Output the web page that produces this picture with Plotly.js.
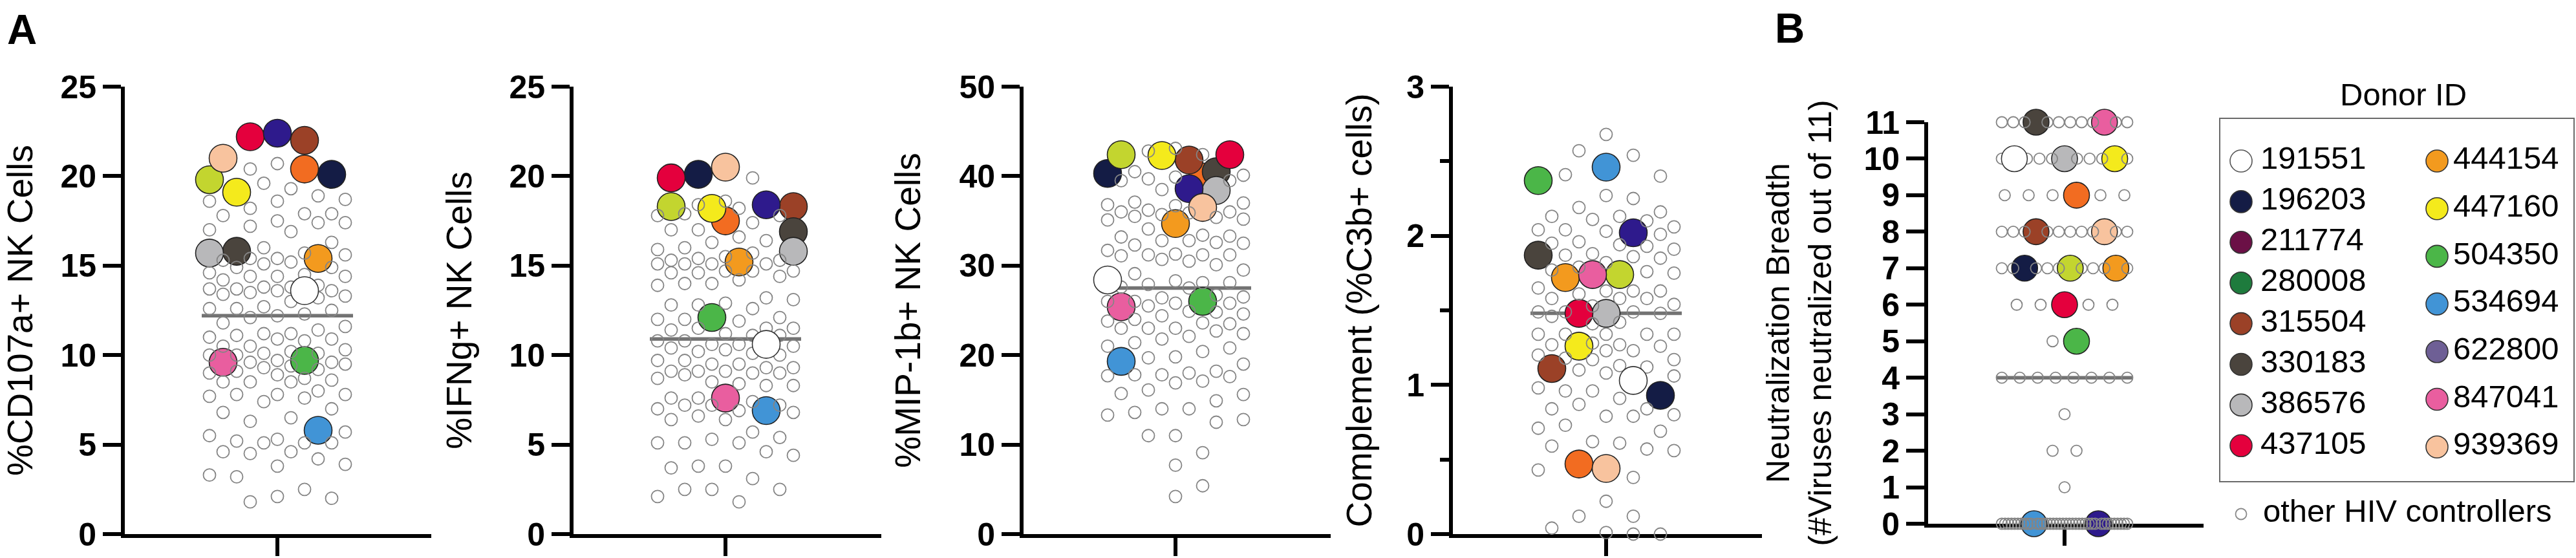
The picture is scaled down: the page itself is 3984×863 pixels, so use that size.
<!DOCTYPE html>
<html><head><meta charset="utf-8">
<script src="https://cdn.plot.ly/plotly-3.0.1.min.js"></script>
<style>html,body{margin:0;padding:0;background:#fff;}#chart{width:3984px;height:863px;}</style>
</head><body><div id="chart"></div>
<script>
// ---------------- DATA ----------------
const donorIds = ['191551','196203','211774','280008','315504','330183','386576','437105','444154','447160','504350','534694','622800','847041','939369'];
const legendColors = ['#ffffff','#141c45','#6b1046','#1e7b3d','#9b4127','#4a443d','#b8b8ba','#e4003d','#f39a1e','#f4ea1c','#4bb648','#4194d6','#6e5f95','#e95e9f','#f8c39e'];
const plotColors   = ['#ffffff','#141c45','#f26c21','#c3d52f','#9b4127','#4a443d','#b8b8ba','#e4003d','#f39a1e','#f4ea1c','#4bb648','#4194d6','#2e1a8c','#e95e9f','#f8c39e'];

const cd107aDonors = [13.6, 20.1, 20.4, 19.8, 22.0, 15.8, 15.7, 22.2, 15.4, 19.1, 9.7, 5.8, 22.4, 9.6, 21.0];
const ifngDonors   = [10.6, 20.1, 17.5, 18.3, 18.3, 16.9, 15.8, 19.9, 15.2, 18.2, 12.1, 6.9, 18.4, 7.6, 20.5];
const mipDonors    = [28.4, 40.3, 39.9, 42.4, 41.8, 40.5, 38.4, 42.4, 34.7, 42.3, 26.0, 19.3, 38.6, 25.4, 36.5];
const c3bDonors    = [1.03, 0.93, 0.47, 1.74, 1.11, 1.87, 1.48, 1.48, 1.72, 1.26, 2.37, 2.46, 2.02, 1.74, 0.44];
const neutDonors   = [10, 7, 9, 7, 8, 11, 10, 6, 7, 10, 5, 0, 0, 11, 8];

const cd107aOthers = [20.7,20.4,19.6,19.3,18.9,18.7,18.6,18.6,18.2,17.9,17.9,17.8,17.5,17.4,17.4,17.2,17.0,16.9,16.3,16.0,
  15.7,15.6,15.4,15.4,15.3,15.2,15.1,14.9,14.9,14.6,14.5,14.4,14.4,14.4,14.2,13.9,13.8,13.8,13.7,13.7,
  13.6,13.6,13.5,13.4,13.3,13.2,13.0,12.7,12.6,12.6,12.5,12.3,12.2,12.1,11.8,11.6,11.4,11.2,11.2,11.1,
  11.0,10.9,10.9,10.8,10.5,10.5,10.3,10.2,10.1,10.1,10.0,10.0,9.7,9.6,9.6,9.5,9.4,9.3,9.2,9.1,
  9.0,8.9,8.7,8.6,8.5,8.5,8.5,8.0,7.8,7.8,7.8,7.7,7.6,7.4,7.0,6.8,6.5,6.3,5.7,5.5,
  5.3,5.2,5.1,5.1,5.1,4.6,4.6,4.5,4.2,3.9,3.8,3.3,3.2,2.5,2.1,2.0,1.8];
const ifngOthers = [19.9,18.6,18.4,18.2,17.9,17.8,17.8,17.4,17.0,17.0,16.6,16.4,16.3,16.0,15.9,15.7,15.5,15.4,15.3,15.3,
  15.1,15.1,15.1,15.1,14.7,14.7,14.7,14.6,14.6,14.4,14.2,14.0,14.0,13.9,13.2,13.1,12.9,12.8,12.8,12.6,
  12.1,12.0,12.0,11.9,11.5,11.5,11.5,11.4,11.2,11.1,11.1,10.8,10.8,10.6,10.6,10.5,10.4,10.3,10.2,10.1,
  10.0,9.7,9.7,9.5,9.5,9.3,9.3,9.1,9.1,9.1,9.0,9.0,8.9,8.7,8.5,8.4,8.3,8.3,7.6,7.6,
  7.4,7.2,7.2,7.2,7.0,6.9,6.8,6.6,6.4,6.4,5.7,5.4,5.3,5.1,5.1,5.1,4.6,4.4,3.8,3.8,
  3.7,3.1,2.5,2.5,2.5,2.1,1.8];
const mipOthers = [43.1,42.8,42.4,40.5,40.1,39.9,39.7,39.5,39.5,38.5,37.1,37.0,36.8,36.7,36.2,36.0,36.0,35.9,35.7,35.5,
  35.4,35.2,35.1,34.1,33.4,33.3,33.2,32.8,32.8,32.6,32.5,32.3,31.7,31.3,31.2,31.2,31.2,31.1,30.7,30.5,
  30.1,29.5,29.1,28.3,28.1,28.1,27.9,27.6,27.5,26.7,26.5,26.4,26.0,26.0,25.8,25.8,25.5,24.9,24.8,24.6,
  24.4,24.0,23.8,23.6,23.5,23.0,23.0,23.0,22.7,22.4,22.1,21.8,21.4,21.0,20.8,20.4,19.8,19.7,19.0,18.2,
  18.0,17.8,17.8,17.7,17.6,17.1,16.9,16.1,15.7,15.6,14.9,14.0,14.0,13.6,13.3,12.8,12.5,11.0,11.0,9.1,
  7.7,5.4,4.2];
const c3bOthers = [2.68,2.57,2.54,2.41,2.40,2.27,2.25,2.19,2.16,2.13,2.13,2.11,2.10,2.06,2.04,2.04,2.03,2.01,1.96,1.95,
  1.94,1.93,1.91,1.88,1.87,1.86,1.85,1.82,1.79,1.77,1.76,1.75,1.65,1.63,1.63,1.63,1.61,1.58,1.58,1.58,
  1.54,1.53,1.49,1.49,1.49,1.48,1.46,1.42,1.41,1.34,1.34,1.34,1.34,1.34,1.28,1.27,1.27,1.26,1.23,1.23,
  1.20,1.18,1.17,1.17,1.13,1.12,1.10,1.08,1.06,0.98,0.96,0.96,0.91,0.87,0.84,0.84,0.80,0.79,0.79,0.73,
  0.71,0.69,0.62,0.61,0.59,0.57,0.56,0.43,0.38,0.22,0.12,0.12,0.04,0.01,0.0,0.0];
const neutOthers = [11,11,11,11,11,11,11,11,11,11, 10,10,10,10,10,10,10,10, 9,9,9,9,9,
  8,8,8,8,8,8,8,8,8,8, 7,7,7,7,7,7,7,7,7, 6,6,6,6, 5, 4,4,4,4,4,4,4,4, 3, 2,2, 1,
  0,0,0,0,0,0,0,0,0,0, 0,0,0,0,0,0,0,0,0,0, 0,0,0,0,0,0,0,0,0,0, 0,0,0,0,0,0,0,0];

const centerLines = [12.2, 10.9, 27.5, 1.48, 4];
const yTitles = ['%CD107a+ NK Cells','%IFNg+ NK Cells','%MIP-1b+ NK Cells','Complement (%C3b+ cells)',
  'Neutralization Breadth<br>(#Viruses neutralized out of 11)'];
const yMax = [25, 25, 50, 3, 11];
const yStep = [5, 5, 10, 1, 1];
const panelLetters = ['A','B'];
const legendTitle = 'Donor ID';
const otherLabel = 'other HIV controllers';

// ---------------- LAYOUT / STYLE ----------------
const W = 3984, H = 863;
const FONT = 'Liberation Sans, Arial, Helvetica, sans-serif';
const panels = [
  {x0:193,  x1:667,  xc:429,  yTop:134, yBot:826, standoff:42},
  {x0:887,  x1:1363, xc:1122, yTop:134, yBot:826, standoff:42},
  {x0:1583, x1:2058, xc:1818, yTop:134, yBot:826, standoff:44},
  {x0:2247, x1:2725, xc:2484, yTop:134, yBot:826, standoff:38},
  {x0:2982, x1:3408, xc:3193, yTop:189, yBot:810, standoff:36}
];
const panelData = [
  [cd107aOthers, cd107aDonors], [ifngOthers, ifngDonors], [mipOthers, mipDonors],
  [c3bOthers, c3bDonors], [neutOthers, neutDonors]
];

// beeswarm on a grid of column slots (Prism-like spread)
function swarm(values, pxPerUnit, d, sp, K, cap) {
  const order = values.map((v, i) => i).sort((a, b) => values[b] - values[a]);
  const xs = new Array(values.length);
  const placed = [];
  let flip = 1;
  for (const i of order) {
    const y = values[i] * pxPerUnit;
    let best = 0, bestScore = -Infinity;
    for (let a = 0; a <= K; a++) {
      const cands = a === 0 ? [0] : [flip * a, -flip * a];
      for (const k of cands) {
        const x = k * sp;
        let c = Infinity;
        for (const p of placed) {
          const dy = y - p.y;
          if (Math.abs(dy) > d + cap + 2) continue;
          const dist = Math.hypot(x - p.x, dy) - d;
          if (dist < c) c = dist;
        }
        const score = Math.min(c, cap);
        if (score > bestScore + 1e-9) { bestScore = score; best = x; }
      }
    }
    flip = -flip;
    xs[i] = best;
    placed.push({x: best, y});
  }
  return xs;
}

// rows of identical integer values spread evenly (panel B)
function rowSpread(others, donors, maxGap, halfW) {
  const groups = {};
  others.forEach((v, i) => { (groups[v] = groups[v] || {o: [], d: []}).o.push(i); });
  donors.forEach((v, i) => { (groups[v] = groups[v] || {o: [], d: []}).d.push(i); });
  const ox = new Array(others.length), dx = new Array(donors.length);
  Object.keys(groups).forEach(key => {
    const g = groups[key];
    const n = g.o.length + g.d.length, m = g.d.length;
    const gap = n > 1 ? Math.min(maxGap, 2 * halfW / (n - 1)) : 0;
    const slotX = s => (s - (n - 1) / 2) * gap;
    const used = new Set();
    g.d.forEach((di, j) => { const s = Math.floor((j + 0.5) * n / m); used.add(s); dx[di] = slotX(s); });
    let s = 0;
    g.o.forEach(oi => { while (used.has(s)) s++; ox[oi] = slotX(s); s++; });
  });
  return [ox, dx];
}

const traces = [];
const layout = {
  width: W, height: H, margin: {l: 0, r: 0, t: 0, b: 0},
  paper_bgcolor: '#ffffff', plot_bgcolor: 'rgba(0,0,0,0)', showlegend: false,
  font: {family: FONT, color: '#000'}, annotations: [], shapes: []
};

panels.forEach((p, i) => {
  const sfx = i === 0 ? '' : String(i + 1);
  const xa = 'x' + sfx, ya = 'y' + sfx;
  const pxPerUnit = (p.yBot - p.yTop) / yMax[i];
  const [others, donorVals] = panelData[i];
  const isB = i === 4;
  let ox, dx;
  if (isB) {
    [ox, dx] = rowSpread(others, donorVals, 37, 97);
  } else {
    const all = others.concat(donorVals);
    const xs = swarm(all, pxPerUnit, 21, 21, 5, 21);
    ox = xs.slice(0, others.length);
    dx = xs.slice(others.length);
  }
  const halfLine = isB ? 106 : 117;
  const graySize = isB ? 17 : 19, bigSize = isB ? 40 : 43;

  traces.push({type: 'scatter', mode: 'lines', x: [-halfLine, halfLine], y: [centerLines[i], centerLines[i]],
    xaxis: xa, yaxis: ya, line: {color: '#737373', width: 5.5}, hoverinfo: 'skip', cliponaxis: false});
  const colIdx = donorIds.map((d, k) => k).filter(k => plotColors[k] !== '#ffffff');
  traces.push({type: 'scatter', mode: 'markers', xaxis: xa, yaxis: ya, cliponaxis: false,
    x: colIdx.map(k => dx[k]), y: colIdx.map(k => donorVals[k]), text: colIdx.map(k => donorIds[k]),
    marker: {size: bigSize, color: colIdx.map(k => plotColors[k]), line: {color: '#222', width: 1.6}}});
  traces.push({type: 'scatter', mode: 'markers', xaxis: xa, yaxis: ya, cliponaxis: false,
    x: ox, y: others,
    marker: {size: graySize, color: 'rgba(0,0,0,0)', line: {color: '#858585', width: 1.8}}});
  const whiteIdx = donorIds.map((d, k) => k).filter(k => plotColors[k] === '#ffffff');
  traces.push({type: 'scatter', mode: 'markers', xaxis: xa, yaxis: ya, cliponaxis: false,
    x: whiteIdx.map(k => dx[k]), y: whiteIdx.map(k => donorVals[k]), text: whiteIdx.map(k => donorIds[k]),
    marker: {size: bigSize, color: '#ffffff', line: {color: '#333', width: 1.6}}});

  layout['xaxis' + sfx] = {
    domain: [p.x0 / W, p.x1 / W], range: [p.x0 - p.xc, p.x1 - p.xc], anchor: ya,
    showline: true, linewidth: 6, linecolor: '#000', ticks: 'outside', tickmode: 'array', tickvals: [0],
    ticklen: 28, tickwidth: 6, tickcolor: '#000', showticklabels: false, showgrid: false, zeroline: false,
    layer: 'below traces', fixedrange: true
  };
  const yax = {
    domain: [1 - p.yBot / H, 1 - p.yTop / H], range: [0, yMax[i]], anchor: xa,
    showline: true, linewidth: 6, linecolor: '#000', ticks: 'outside', tickmode: 'linear', tick0: 0, dtick: yStep[i],
    ticklen: 28, tickwidth: 6, tickcolor: '#000', showgrid: false, zeroline: false, layer: 'below traces',
    tickfont: {family: FONT, size: 50, weight: 'bold', color: '#000'},
    title: {text: yTitles[i], font: {family: FONT, size: isB ? 50 : 55, color: '#000'}, standoff: p.standoff},
    fixedrange: true
  };
  if (i === 3) yax.minor = {dtick: 0.5, tick0: 0, ticks: 'outside', ticklen: 14, tickwidth: 6, tickcolor: '#000', showgrid: false};
  layout['yaxis' + sfx] = yax;
});

// panel letters
layout.annotations.push({text: '<b>' + panelLetters[0] + '</b>', xref: 'paper', yref: 'paper', x: 34 / W, y: 1 - 46 / H,
  xanchor: 'center', yanchor: 'middle', showarrow: false, font: {family: FONT, size: 64, color: '#000'}});
layout.annotations.push({text: '<b>' + panelLetters[1] + '</b>', xref: 'paper', yref: 'paper', x: 2768 / W, y: 1 - 44 / H,
  xanchor: 'center', yanchor: 'middle', showarrow: false, font: {family: FONT, size: 64, color: '#000'}});

// ---------------- donor key (drawn on its own hidden axes, pixel units) ----------------
const key = {ax0: 3420, ax1: 3984, ay0: 120, ay1: 840,
  box: [3433, 183, 3981, 745], col1M: 3466, col1T: 3496, col2M: 3769, col2T: 3794,
  row0: 249, step1: 62.9, step2: 73.7, titleX: 3717, titleY: 146, otherY: 795, otherT: 3500, perCol: 8};
layout.xaxis6 = {domain: [key.ax0 / W, key.ax1 / W], range: [key.ax0, key.ax1], visible: false, fixedrange: true};
layout.yaxis6 = {domain: [1 - key.ay1 / H, 1 - key.ay0 / H], range: [key.ay1, key.ay0], visible: false, fixedrange: true, anchor: 'x6'};
const kx = [], ky = [], tx = [];
donorIds.forEach((d, k) => {
  const c2 = k >= key.perCol;
  const r = c2 ? k - key.perCol : k;
  kx.push(c2 ? key.col2M : key.col1M);
  tx.push(c2 ? key.col2T : key.col1T);
  ky.push(key.row0 + r * (c2 ? key.step2 : key.step1));
});
traces.push({type: 'scatter', mode: 'markers', xaxis: 'x6', yaxis: 'y6', cliponaxis: false, x: kx, y: ky,
  marker: {size: 34, color: legendColors, line: {color: legendColors.map(c => c === '#ffffff' ? '#555' : '#333'), width: 1.6}}});
traces.push({type: 'scatter', mode: 'text', xaxis: 'x6', yaxis: 'y6', cliponaxis: false, x: tx, y: ky, text: donorIds,
  textposition: 'middle right', textfont: {family: FONT, size: 49, color: '#000'}});
traces.push({type: 'scatter', mode: 'markers', xaxis: 'x6', yaxis: 'y6', cliponaxis: false, x: [key.col1M], y: [key.otherY],
  marker: {size: 17, color: 'rgba(0,0,0,0)', line: {color: '#8a8a8a', width: 1.8}}});
traces.push({type: 'scatter', mode: 'text', xaxis: 'x6', yaxis: 'y6', cliponaxis: false, x: [key.otherT], y: [key.otherY],
  text: [otherLabel], textposition: 'middle right', textfont: {family: FONT, size: 49, color: '#000'}});
layout.shapes.push({type: 'rect', xref: 'x6', yref: 'y6', x0: key.box[0], y0: key.box[1], x1: key.box[2], y1: key.box[3],
  line: {color: '#6a6a6a', width: 2}, fillcolor: 'rgba(0,0,0,0)'});
layout.annotations.push({text: legendTitle, xref: 'x6', yref: 'y6', x: key.titleX, y: key.titleY, xanchor: 'center', yanchor: 'middle',
  showarrow: false, font: {family: FONT, size: 49, color: '#000'}});

Plotly.newPlot('chart', traces, layout, {displayModeBar: false, staticPlot: true});
</script></body></html>
